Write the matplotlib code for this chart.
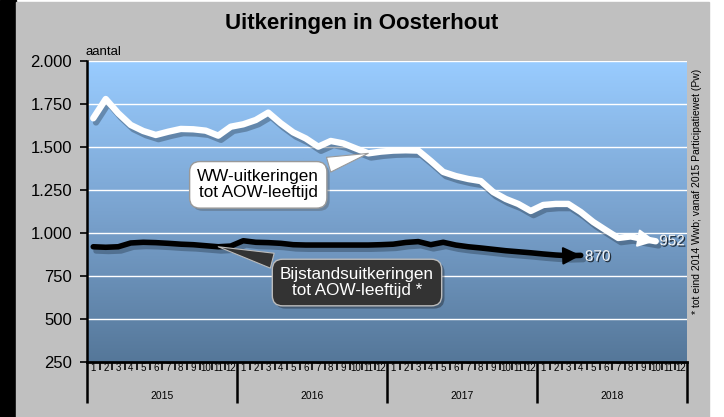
import numpy as np
import matplotlib
matplotlib.use('Agg')
import matplotlib.pyplot as plt
import matplotlib.patheffects as pe
from matplotlib.patches import Rectangle
from matplotlib.colors import LinearSegmentedColormap

plt.rcParams['font.family'] = ['Liberation Sans', 'DejaVu Sans']

years = ['2015', '2016', '2017', '2018']
months = [str(m) for m in range(1, 13)]
yticks = [250, 500, 750, 1000, 1250, 1500, 1750, 2000]

# WW-uitkeringen tot AOW-leeftijd, jan 2015 - okt 2018
ww = [1667, 1779, 1696, 1628, 1593, 1570, 1589, 1605, 1603, 1595, 1566, 1618,
      1632, 1657, 1700, 1638, 1585, 1550, 1502, 1535, 1521, 1492, 1463, 1473,
      1479, 1481, 1479, 1419, 1355, 1331, 1314, 1302, 1238, 1198, 1169, 1128,
      1163, 1169, 1169, 1122, 1064, 1017, 971, 980, 965, 952]
# Bijstandsuitkeringen tot AOW-leeftijd, jan 2015 - mei 2018
bijstand = [920, 917, 920, 942, 946, 944, 940, 935, 932, 926, 920, 924,
            955, 946, 944, 940, 932, 930, 930, 930, 930, 930, 930, 932,
            935, 945, 950, 932, 946, 930, 920, 913, 905, 897, 891, 885,
            878, 872, 868, 870]

title = 'Uitkeringen in Oosterhout'
ww_label = 'WW-uitkeringen\ntot AOW-leeftijd'
bij_label = 'Bijstandsuitkeringen\ntot AOW-leeftijd *'
note = '* tot eind 2014 Wwb; vanaf 2015 Participatiewet (Pw)'

W, H = 724, 417
px = 72 / 100  # points per pixel
fig = plt.figure(figsize=(W / 100, H / 100), dpi=100)
fig.patches.append(Rectangle((0, 0), 16 / W, 1, transform=fig.transFigure,
                             color='black', zorder=-10))
fig.patches.append(Rectangle((16 / W, 0), (709 - 16) / W, 415 / H,
                             transform=fig.transFigure, color='#c0c0c0', zorder=-10))

ax = fig.add_axes([87 / W, 55 / H, 600 / W, 301 / H])
n = 12 * len(years)
grad = np.linspace(1, 0, 256).reshape(-1, 1)
cmap = LinearSegmentedColormap.from_list('bg', ['#557799', '#7aa3cf', '#99ccff'])
ax.imshow(grad, extent=[-0.5, n - 0.5, 250, 2000], aspect='auto', cmap=cmap, zorder=-1)
ax.set_xlim(-0.5, n - 0.5)
ax.set_ylim(250, 2000)

ax.set_yticks(yticks)
ax.set_yticklabels([f'{v:,}'.replace(',', '.') for v in yticks], fontsize=12)
ax.yaxis.grid(True, color='white', lw=1)
ax.set_axisbelow(True)
ax.tick_params(axis='y', length=7 * px, width=1.2, pad=8 * px)
for s in ['top', 'right']:
    ax.spines[s].set_visible(False)
ax.spines['left'].set_linewidth(1.8)
ax.spines['bottom'].set_linewidth(2)

ax.set_xticks(np.arange(-0.5, n, 12))
ax.set_xticks(np.arange(0.5, n, 1), minor=True)
ax.set_xticklabels([])
ax.tick_params(axis='x', which='major', length=41 * px, width=1.8)
ax.tick_params(axis='x', which='minor', length=8 * px, width=1.2)
tr = ax.get_xaxis_transform()
for k in range(n):
    ax.text(k, -0.02, months[k % 12], transform=tr, ha='center', va='center', fontsize=7)
for j, yr in enumerate(years):
    ax.text(12 * j + 5.5, -0.113, yr, transform=tr, ha='center', va='center', fontsize=7.5)

x_ww = np.arange(len(ww))
x_bij = np.arange(len(bijstand))
shadow = [pe.SimpleLineShadow(offset=(2, -3), shadow_color='#1a2a3a', alpha=0.35), pe.Normal()]
ax.plot(x_ww, ww, color='white', lw=4.6, solid_joinstyle='round',
        solid_capstyle='round', path_effects=shadow, zorder=4)
ax.plot(x_bij, bijstand, color='black', lw=4.0, solid_joinstyle='round',
        solid_capstyle='round', path_effects=shadow, zorder=3)

for xs, vs, col, z in [(x_ww, ww, 'white', 4), (x_bij, bijstand, 'black', 3)]:
    ax.annotate('', xy=(xs[-1], vs[-1]), xytext=(xs[-2], vs[-2]),
                arrowprops=dict(arrowstyle='-|>,head_length=11,head_width=5.5',
                                mutation_scale=1, color=col, lw=1.5,
                                shrinkA=0, shrinkB=0), zorder=z)

lab_fx = [pe.withSimplePatchShadow(offset=(1, -1), shadow_rgbFace='black', alpha=0.7)]
ax.annotate(str(ww[-1]), xy=(x_ww[-1], ww[-1]), xytext=(2.5, 0), textcoords='offset points',
            va='center', ha='left', color='#f4f4f4', fontsize=11, path_effects=lab_fx, zorder=6)
ax.annotate(str(bijstand[-1]), xy=(x_bij[-1], bijstand[-1]), xytext=(3, -1), textcoords='offset points',
            va='center', ha='left', color='#f4f4f4', fontsize=11, path_effects=lab_fx, zorder=6)

box_fx = [pe.SimplePatchShadow(offset=(2, -2), alpha=0.35), pe.Normal()]
a1 = ax.annotate(ww_label, xy=(22, ww[22]), xytext=(13.2, 1280), ha='center', va='center',
                 fontsize=12.3, color='black', linespacing=1.1, zorder=7,
                 bbox=dict(boxstyle='round,pad=0.45,rounding_size=0.6', fc='white', ec='#999999', lw=1),
                 arrowprops=dict(arrowstyle='wedge,tail_width=0.9,shrink_factor=0.5',
                                 fc='white', ec='#999999', lw=0.8, shrinkB=0))
a1.get_bbox_patch().set_path_effects(box_fx)
a2 = ax.annotate(bij_label, xy=(10, bijstand[10]), xytext=(21.1, 712), ha='center', va='center',
                 fontsize=12.3, color='white', linespacing=1.1, zorder=7,
                 bbox=dict(boxstyle='round,pad=0.45,rounding_size=0.6', fc='#333333', ec='#bbbbbb', lw=1),
                 arrowprops=dict(arrowstyle='wedge,tail_width=0.9,shrink_factor=0.5',
                                 fc='#333333', ec='#bbbbbb', lw=0.8, shrinkB=0))
a2.get_bbox_patch().set_path_effects(box_fx)

fig.text(362 / W, 1 - 24 / H, title, ha='center', va='center', fontsize=16, fontweight='bold')
fig.text(85 / W, 1 - 52 / H, 'aantal', ha='left', va='center', fontsize=9.5)
fig.text(697 / W, 1 - 191 / H, note, rotation=90, ha='center', va='center', fontsize=7.5)

fig.savefig('out.png', dpi=100)
